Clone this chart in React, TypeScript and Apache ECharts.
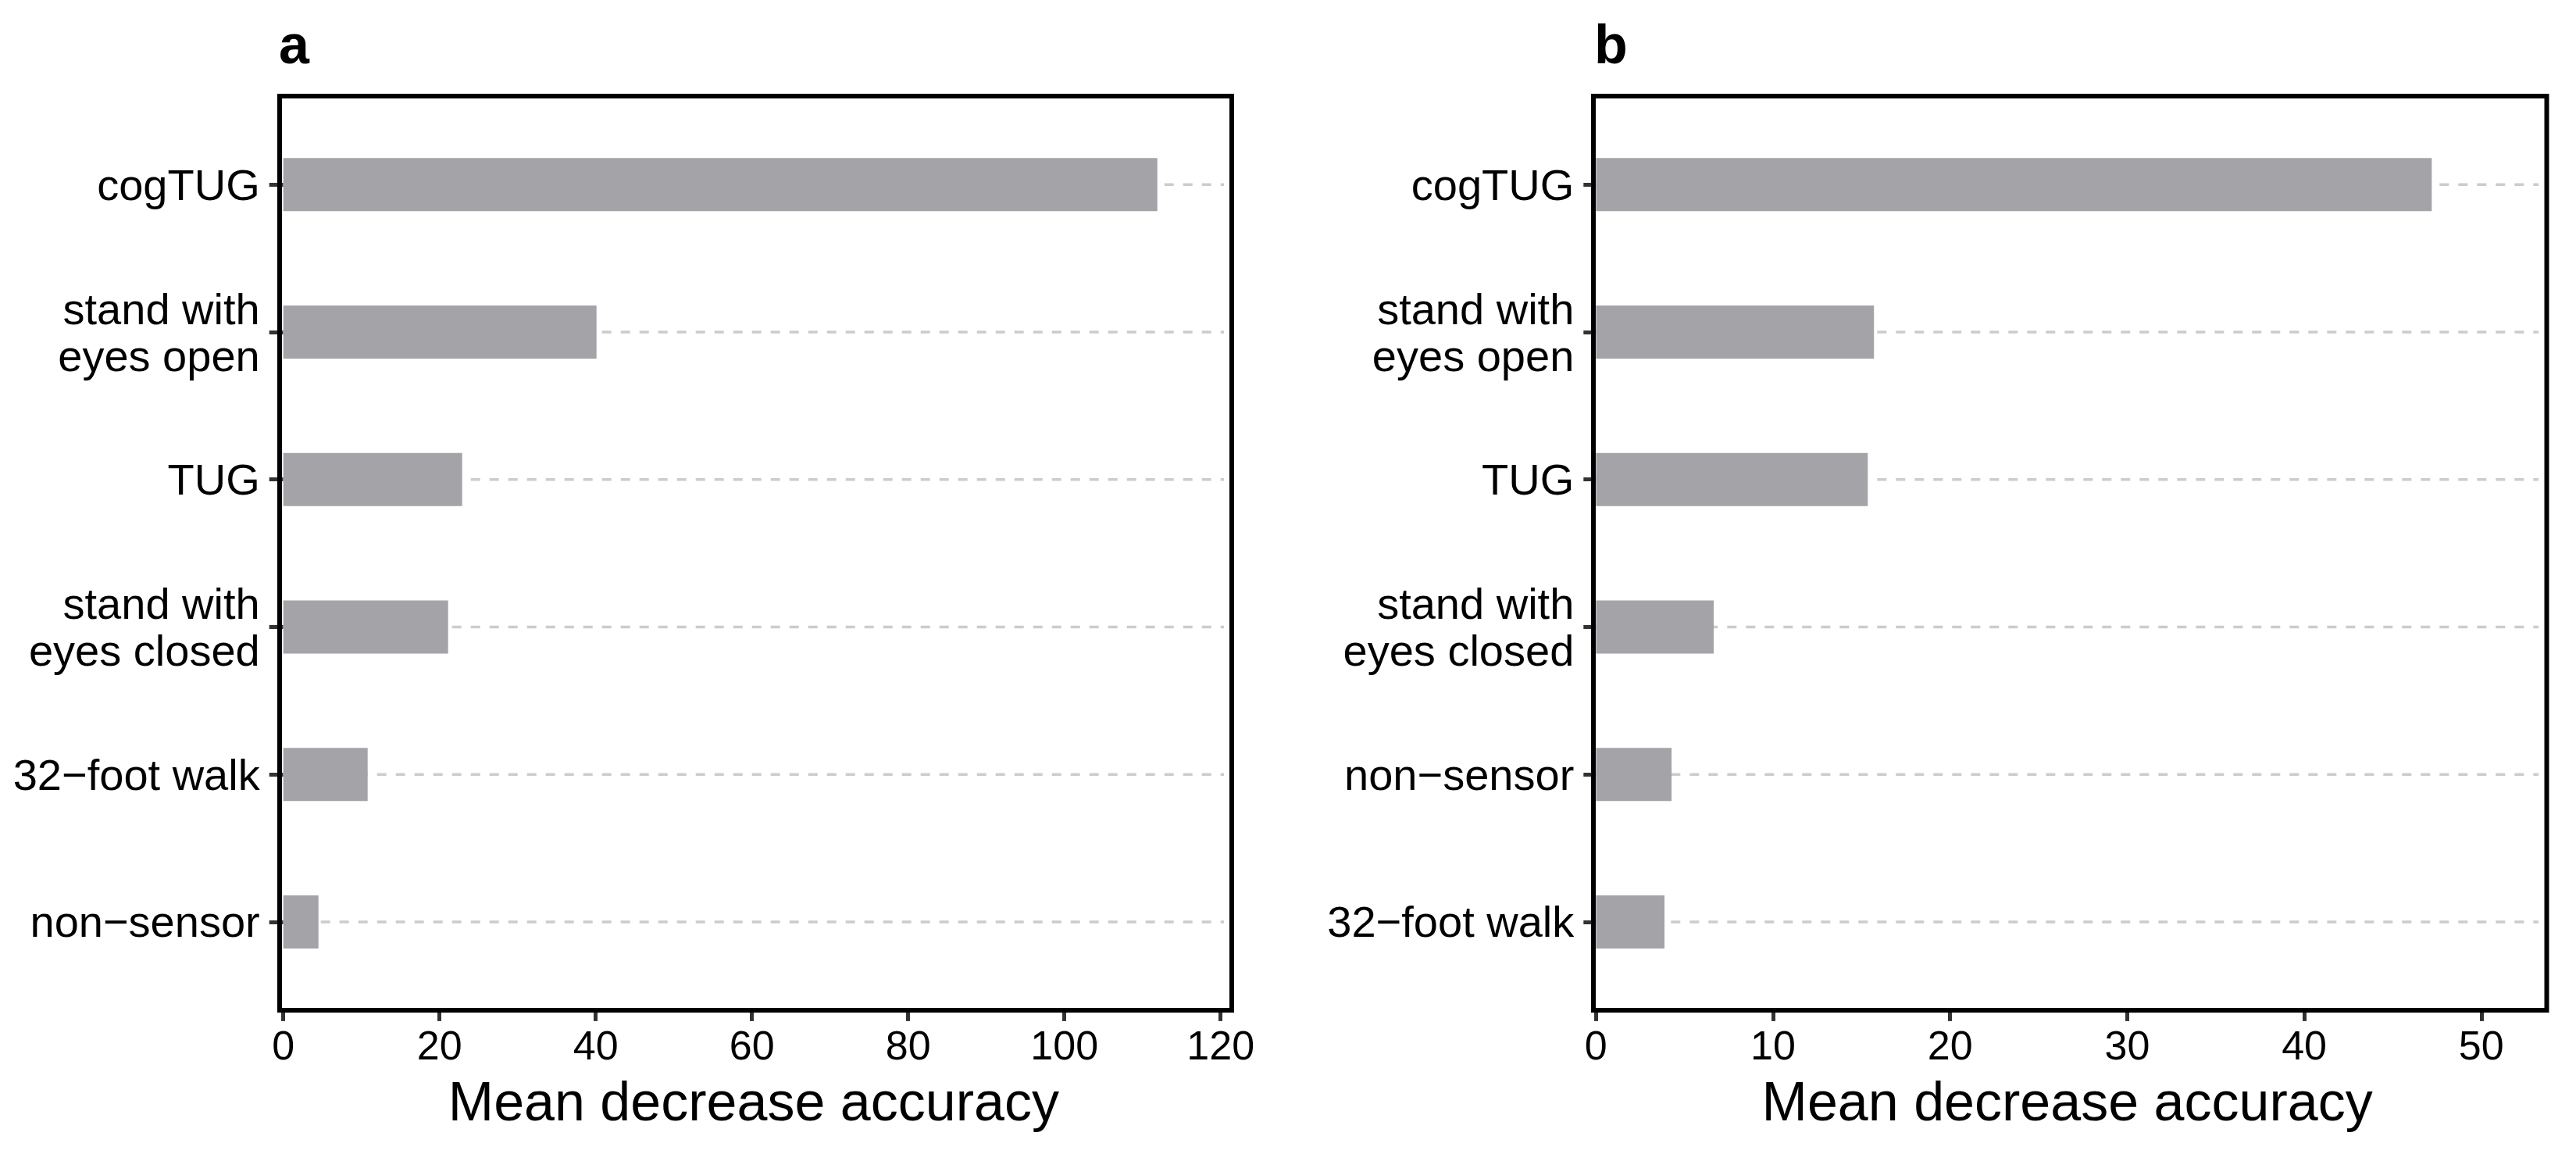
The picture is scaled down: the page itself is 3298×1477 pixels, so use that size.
import React, { useEffect, useRef } from "react";
import * as echarts from "echarts";

const panelLabels = ["a", "b"];
const axisTitle = "Mean decrease accuracy";

const categoriesA = [
  "cogTUG",
  "stand with\neyes open",
  "TUG",
  "stand with\neyes closed",
  "32−foot walk",
  "non−sensor",
];
const valuesA = [111.9, 40.1, 22.9, 21.1, 10.8, 4.5];
const ticksA = [0, 20, 40, 60, 80, 100, 120];

const categoriesB = [
  "cogTUG",
  "stand with\neyes open",
  "TUG",
  "stand with\neyes closed",
  "non−sensor",
  "32−foot walk",
];
const valuesB = [47.2, 15.7, 15.35, 6.65, 4.27, 3.87];
const ticksB = [0, 10, 20, 30, 40, 50];

const FONT = "Liberation Sans, Arial, Helvetica, sans-serif";
const BAR_COLOR = "#a4a3a8";

export default function App() {
  const ref = useRef<HTMLDivElement>(null);

  useEffect(() => {
    if (!ref.current) return;
    const chart = echarts.init(ref.current, undefined, { renderer: "svg" });

    const panels = [
      { cats: categoriesA, vals: valuesA, ticks: ticksA, max: 120.43, left: 362.7, width: 1204.3, labelMargin: 30, tickLen: 18 },
      { cats: categoriesB, vals: valuesB, ticks: ticksB, max: 53.23, left: 2043.3, width: 1206.7, labelMargin: 28, tickLen: 16 },
    ];
    const gridTop = 141.9;
    const gridHeight = 1132.4;

    const grids: any[] = [];
    const xAxes: any[] = [];
    const yAxes: any[] = [];
    const series: any[] = [];

    panels.forEach((p, i) => {
      grids.push({
        left: p.left,
        top: gridTop,
        width: p.width,
        height: gridHeight,
        containLabel: false,
        outerBoundsMode: "none",
      });
      xAxes.push({
        type: "value",
        gridIndex: i,
        min: 0,
        max: p.max,
        offset: 18.6,
        axisLine: { show: false },
        axisTick: {
          show: true,
          length: 14,
          customValues: p.ticks,
          lineStyle: { color: "#333333", width: 5 },
        },
        axisLabel: {
          show: true,
          customValues: p.ticks,
          fontSize: 52,
          fontFamily: FONT,
          color: "#000000",
          margin: 19,
        },
        splitLine: { show: false },
        name: axisTitle,
        nameLocation: "middle",
        nameGap: 82,
        nameTextStyle: { fontSize: 70, fontFamily: FONT, color: "#000000" },
      });
      yAxes.push({
        type: "category",
        gridIndex: i,
        data: p.cats,
        inverse: true,
        axisLine: { show: false },
        axisTick: {
          show: true,
          alignWithLabel: true,
          length: p.tickLen,
          lineStyle: { color: "#333333", width: 5 },
        },
        axisLabel: {
          show: true,
          interval: 0,
          fontSize: 56,
          lineHeight: 60,
          fontFamily: FONT,
          color: "#000000",
          margin: p.labelMargin,
          align: "right",
        },
        splitLine: { show: false },
      });
      p.cats.forEach((c) => {
        series.push({
          type: "line",
          xAxisIndex: i,
          yAxisIndex: i,
          data: [
            [0, c],
            [p.max, c],
          ],
          symbol: "none",
          silent: true,
          z: 1,
          lineStyle: { color: "#cccccc", width: 3.5, type: [12, 12] },
        });
      });
      series.push({
        type: "bar",
        xAxisIndex: i,
        yAxisIndex: i,
        data: p.vals,
        barWidth: 68,
        z: 2,
        itemStyle: { color: BAR_COLOR },
        silent: true,
      });
    });

    const option: any = {
      animation: false,
      backgroundColor: "#ffffff",
      title: [
        {
          text: panelLabels[0],
          left: 357,
          top: 22,
          textStyle: { fontSize: 70, fontWeight: "bold", fontFamily: FONT, color: "#000000" },
          padding: 0,
        },
        {
          text: panelLabels[1],
          left: 2041,
          top: 22,
          textStyle: { fontSize: 70, fontWeight: "bold", fontFamily: FONT, color: "#000000" },
          padding: 0,
        },
      ],
      grid: grids,
      xAxis: xAxes,
      yAxis: yAxes,
      series,
      graphic: [
        {
          type: "rect",
          shape: { x: 358, y: 123, width: 1219, height: 1170 },
          style: { fill: "none", stroke: "#000000", lineWidth: 6 },
          z: 100,
          silent: true,
        },
        {
          type: "rect",
          shape: { x: 2040, y: 123, width: 1220.5, height: 1170 },
          style: { fill: "none", stroke: "#000000", lineWidth: 6 },
          z: 100,
          silent: true,
        },
      ],
    };

    chart.setOption(option);
    return () => chart.dispose();
  }, []);

  return (
    <div
      ref={ref}
      style={{ position: "absolute", left: 0, top: 0, width: 3298, height: 1477, background: "#fff" }}
    />
  );
}
